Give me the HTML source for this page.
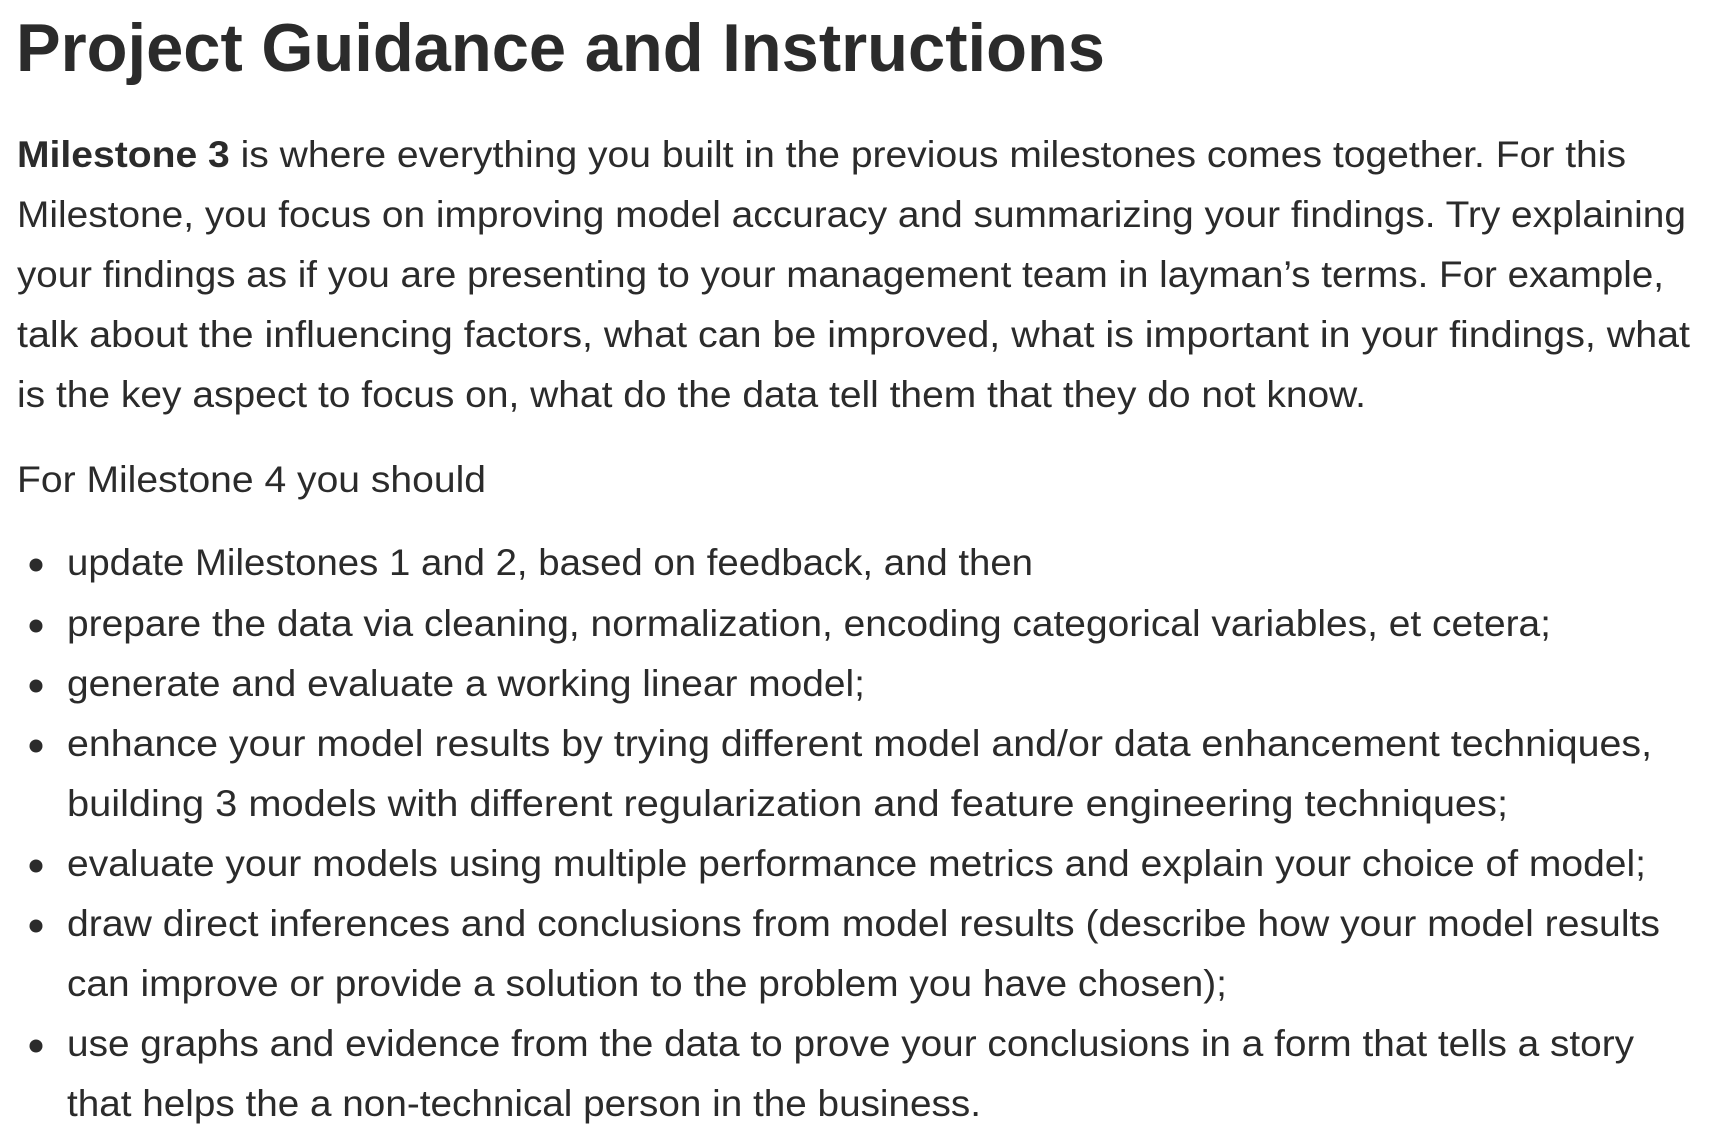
<!DOCTYPE html>
<html><head><meta charset="utf-8"><style>
html,body{margin:0;padding:0;background:#fff;width:1714px;height:1140px;overflow:hidden}
svg{display:block}
text{font-family:"Liberation Sans",sans-serif;fill:#2b2b2b;font-size:37px}
</style></head><body>
<svg width="1714" height="1140" viewBox="0 0 1714 1140" xmlns="http://www.w3.org/2000/svg">
<text x="16" y="71" style="font-size:68px;font-weight:bold" textLength="1089" lengthAdjust="spacingAndGlyphs">Project Guidance and Instructions</text>
<text x="17" y="167" textLength="1609" lengthAdjust="spacingAndGlyphs"><tspan font-weight="bold">Milestone 3</tspan> is where everything you built in the previous milestones comes together. For this</text>
<text x="17" y="227" textLength="1669" lengthAdjust="spacingAndGlyphs">Milestone, you focus on improving model accuracy and summarizing your findings. Try explaining</text>
<text x="17" y="287" textLength="1647" lengthAdjust="spacingAndGlyphs">your findings as if you are presenting to your management team in layman’s terms. For example,</text>
<text x="17" y="347" textLength="1673" lengthAdjust="spacingAndGlyphs">talk about the influencing factors, what can be improved, what is important in your findings, what</text>
<text x="17" y="407" textLength="1349" lengthAdjust="spacingAndGlyphs">is the key aspect to focus on, what do the data tell them that they do not know.</text>
<text x="17" y="492" textLength="469" lengthAdjust="spacingAndGlyphs">For Milestone 4 you should</text>
<g fill="#2b2b2b">
<circle cx="36" cy="565" r="6.5"/><circle cx="36" cy="626" r="6.5"/><circle cx="36" cy="686" r="6.5"/><circle cx="36" cy="746" r="6.5"/><circle cx="36" cy="866" r="6.5"/><circle cx="36" cy="926" r="6.5"/><circle cx="36" cy="1046" r="6.5"/>
</g>
<text x="67" y="575" textLength="966" lengthAdjust="spacingAndGlyphs">update Milestones 1 and 2, based on feedback, and then</text>
<text x="67" y="636" textLength="1484" lengthAdjust="spacingAndGlyphs">prepare the data via cleaning, normalization, encoding categorical variables, et cetera;</text>
<text x="67" y="696" textLength="798" lengthAdjust="spacingAndGlyphs">generate and evaluate a working linear model;</text>
<text x="67" y="756" textLength="1585" lengthAdjust="spacingAndGlyphs">enhance your model results by trying different model and/or data enhancement techniques,</text>
<text x="67" y="816" textLength="1441" lengthAdjust="spacingAndGlyphs">building 3 models with different regularization and feature engineering techniques;</text>
<text x="67" y="876" textLength="1579" lengthAdjust="spacingAndGlyphs">evaluate your models using multiple performance metrics and explain your choice of model;</text>
<text x="67" y="936" textLength="1593" lengthAdjust="spacingAndGlyphs">draw direct inferences and conclusions from model results (describe how your model results</text>
<text x="67" y="996" textLength="1160" lengthAdjust="spacingAndGlyphs">can improve or provide a solution to the problem you have chosen);</text>
<text x="67" y="1056" textLength="1567" lengthAdjust="spacingAndGlyphs">use graphs and evidence from the data to prove your conclusions in a form that tells a story</text>
<text x="67" y="1116" textLength="914" lengthAdjust="spacingAndGlyphs">that helps the a non-technical person in the business.</text>
</svg>
</body></html>
